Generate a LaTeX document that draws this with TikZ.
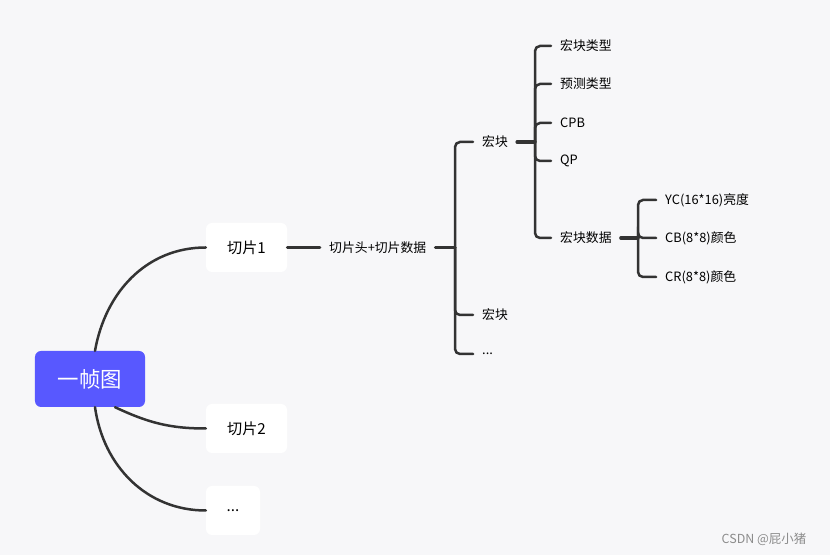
\documentclass[tikz,border=0pt]{standalone}
\usepackage{fontspec}
\setmainfont{Noto Sans CJK SC}
\definecolor{bgcol}{RGB}{247,247,249}
\definecolor{rootblue}{RGB}{88,88,255}
\definecolor{linecol}{RGB}{51,51,51}
\begin{document}
\begin{tikzpicture}[x=1bp, y=1bp, line cap=round,
  rootbox/.style={fill=rootblue, text=white, rounded corners=6bp, minimum width=110bp, minimum height=56bp, font=\fontsize{21.5}{24}\selectfont},
  slicebox/.style={fill=white, rounded corners=6bp, minimum height=49bp, font=\fontsize{15.2}{18}\selectfont},
  leaf/.style={anchor=west, inner xsep=9bp, inner ysep=2bp, font=\fontsize{12.9}{15}\selectfont},
  branch/.style={draw=linecol, line width=2.5bp},
  stub/.style={draw=linecol, line width=3.3bp},
  bracket/.style={branch, rounded corners=5bp}]
% Hintergrund
\fill[bgcol] (0,0) rectangle (830,555);
% Wurzel und Slices
\node[rootbox] (root) at (90,176) {一帧图};
\node[slicebox, minimum width=81bp] (sA) at (246.5,307.5) {切片1};
\node[slicebox, minimum width=81bp] (sB) at (246.5,126.5) {切片2};
\node[slicebox, minimum width=54bp] (sC) at (233,44.5) {...};
% Kurven zur Wurzel
\draw[branch] ([xshift=5bp]root.north) to[out=80, in=180] (sA.west);
\draw[branch] ([xshift=25bp]root.south) to[out=-25, in=180] (sB.west);
\draw[branch] ([xshift=5bp]root.south) to[out=-82, in=180] (sC.west);
% Ebene 1: Slice-Inhalt
\node[leaf] (head) at (320,307.5) {切片头+切片数据};
\draw[branch] (sA.east) -- (head.west);
\coordinate (k1) at (455,307.5);
\node[leaf] (mbA) at (473,413) {宏块};
\node[leaf] (mbB) at (473,240) {宏块};
\node[leaf] (mbC) at (473,201) {...};
\draw[stub] (head.east) -- (k1);
\foreach \n in {mbA,mbB,mbC} \draw[bracket] (k1) |- (\n.west);
% Ebene 2: Makroblock
\coordinate (k2) at (535,413);
\node[leaf] (type)  at (551,509) {宏块类型};
\node[leaf] (pred)  at (551,471) {预测类型};
\node[leaf] (cpb)   at (551,432) {CPB};
\node[leaf] (qp)    at (551,394) {QP};
\node[leaf] (data)  at (551,317) {宏块数据};
\draw[stub] (mbA.east) -- (k2);
\foreach \n in {type,pred,cpb,qp,data} \draw[bracket] (k2) |- (\n.west);
% Ebene 3: Makroblockdaten
\coordinate (k3) at (638,317);
\node[leaf] (yc) at (656,355) {YC(16*16)亮度};
\node[leaf] (cb) at (656,317) {CB(8*8)颜色};
\node[leaf] (cr) at (656,278) {CR(8*8)颜色};
\draw[stub] (data.east) -- (k3);
\foreach \n in {yc,cb,cr} \draw[bracket] (k3) |- (\n.west);
% Wasserzeichen
\node[font=\fontsize{12.5}{15}\selectfont, text=black!45] (wm) at (764,16) {CSDN @屁小猪};
\end{tikzpicture}
\end{document}
